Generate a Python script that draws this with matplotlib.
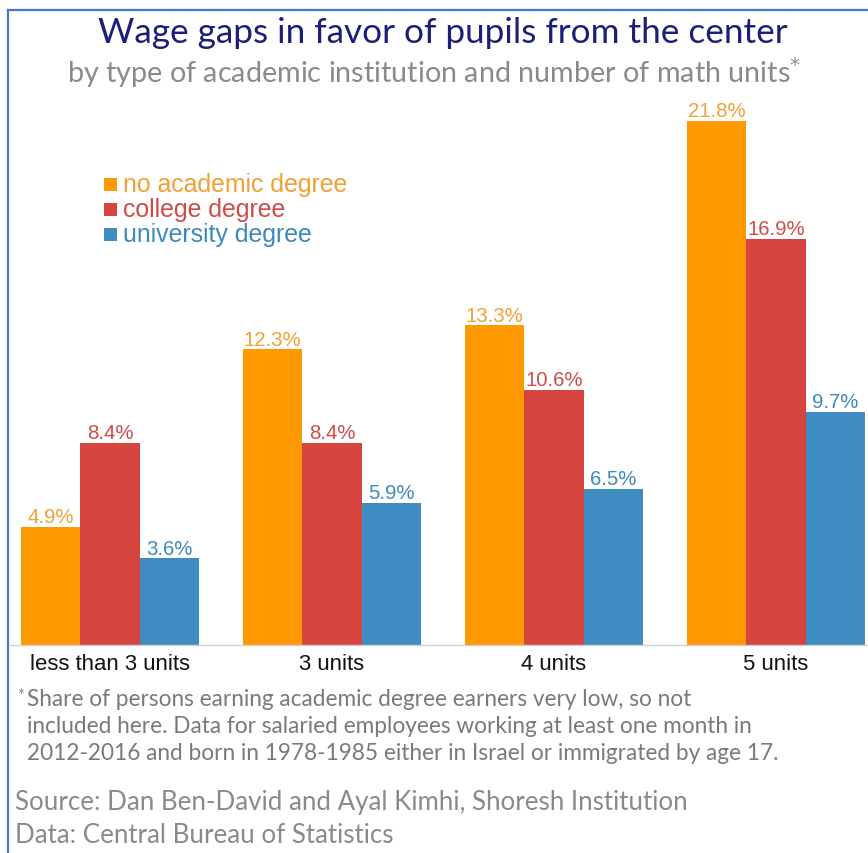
import numpy as np
import matplotlib.pyplot as plt
from matplotlib.patches import Rectangle
from matplotlib.lines import Line2D

categories = ["less than 3 units", "3 units", "4 units", "5 units"]
series_names = ["no academic degree", "college degree", "university degree"]
no_academic = [4.9, 12.3, 13.3, 21.8]
college = [8.4, 8.4, 10.6, 16.9]
university = [3.6, 5.9, 6.5, 9.7]

bar_colors = ["#FF9900", "#D5443F", "#3F8CC2"]
text_colors = ["#F0A035", "#D04B48", "#3D89BE"]

W, H = 868, 854
fig = plt.figure(figsize=(W / 100, H / 100), dpi=100)


def fy(py):
    # pixel row from the top -> figure fraction
    return 1 - py / H


def fit(t, target_px):
    # scale a text so it spans target_px pixels
    r = fig.canvas.get_renderer()
    w = t.get_window_extent(r).width
    t.set_fontsize(t.get_fontsize() * target_px / w)
    return t.get_fontsize()


# axes placed in pixel terms: baseline at y=646, groups 222 px apart
left_px, right_px, top_px, base_px = 10, 868, 100, 646
ax = fig.add_axes([left_px / W, fy(base_px), (right_px - left_px) / W, (base_px - top_px) / H])
px_per_unit = 24.04
x0 = 110
ax.set_xlim((left_px - x0) / 222, (right_px - x0) / 222)
ax.set_ylim(0, (base_px - top_px) / px_per_unit)

x = np.arange(len(categories))
w = 59.3 / 222
for i, (vals, c, tc) in enumerate(zip([no_academic, college, university], bar_colors, text_colors)):
    pos = x + (i - 1) * w
    ax.bar(pos, vals, width=w, color=c, linewidth=0)
    for xp, v in zip(pos, vals):
        ax.text(xp, v + 0.03, f"{v:.1f}%", ha="center", va="bottom", color=tc,
                fontsize=14.7, family="Liberation Sans")

for s in ["top", "right", "left"]:
    ax.spines[s].set_visible(False)
ax.spines["bottom"].set_color("#d0d0d0")
ax.spines["bottom"].set_linewidth(1)
ax.set_yticks([])
ax.set_xticks(x)
ax.set_xticklabels(categories, fontsize=15.9, family="Liberation Sans", color="#111111")
ax.tick_params(axis="x", length=0, pad=6)

# legend drawn by hand: square sits on the baseline, as tall as the x-height
for k, (name, c, tc) in enumerate(zip(series_names, bar_colors, text_colors)):
    yb = 192 + 25 * k
    fig.add_artist(Rectangle((104 / W, fy(yb)), 13 / W, 13 / H, facecolor=c, edgecolor="none"))
    fig.text(123 / W, fy(yb), name, ha="left", va="baseline", color=tc,
             fontsize=17.9, family="Liberation Sans")

# titles
t = fig.text(443 / W, fy(33), "Wage gaps in favor of pupils from the center", ha="center", va="center",
             fontsize=21, color="#1B1F7A", family="Lato")
fit(t, 689)
t = fig.text(434 / W, fy(73), "by type of academic institution and number of math units$^{*}$", ha="center",
             va="center", fontsize=16.5, color="#8A8A8A", family="Lato")
fit(t, 732)

# footnote
notes = ["Share of persons earning academic degree earners very low, so not",
         "included here. Data for salaried employees working at least one month in",
         "2012-2016 and born in 1978-1985 either in Israel or immigrated by age 17."]
lines = [fig.text(27 / W, fy(700 + 27 * k), line, ha="left", va="center", fontsize=14,
                  color="#7A7A7A", family="Lato") for k, line in enumerate(notes)]
size = fit(lines[1], 726)
for t in lines:
    t.set_fontsize(size)
fig.text(17 / W, fy(688), "*", ha="left", va="top", fontsize=12, color="#8A8A8A", family="Lato")

src = fig.text(15 / W, fy(803), "Source: Dan Ben-David and Ayal Kimhi, Shoresh Institution", ha="left",
               va="center", fontsize=16, color="#8A8A8A", family="Lato")
size = fit(src, 673)
fig.text(15 / W, fy(836), "Data: Central Bureau of Statistics", ha="left", va="center",
         fontsize=size, color="#8A8A8A", family="Lato")

# frame
fig.add_artist(Line2D([8 / W, 8 / W], [0, fy(11)], color="#4A78C8", lw=1.6))
fig.add_artist(Line2D([8 / W, 1], [fy(11), fy(11)], color="#4A78C8", lw=1.6))

fig.savefig("out.png", dpi=100)
